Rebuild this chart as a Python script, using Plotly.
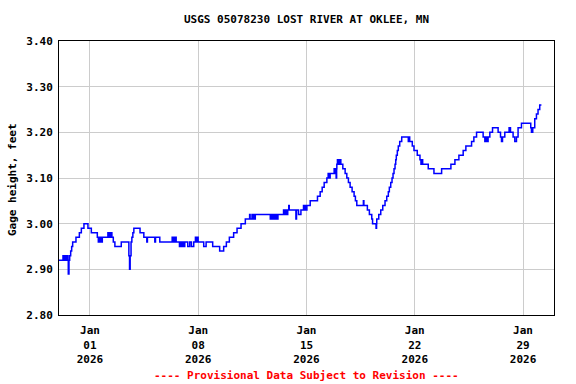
import pandas as pd
import plotly.graph_objects as go

title_text = "USGS 05078230 LOST RIVER AT OKLEE, MN"
y_title = "Gage height, feet"
footer_text = "---- Provisional Data Subject to Revision ----"

# days since 2026-01-01 00:00
day_offsets = [
    -2.000, -1.742, -1.665, -1.613, -1.548, -1.503, -1.419, -1.400, -1.355, -1.310,
    -1.245, -1.181, -1.116, -0.903, -0.684, -0.555, -0.387, -0.129, 0.090, 0.477,
    0.542, 0.594, 0.639, 0.723, 0.760, 0.800, 1.161, 1.194, 1.290, 1.335,
    1.381, 1.419, 1.510, 1.613, 2.026, 2.516, 2.561, 2.600, 2.658, 2.710,
    2.774, 2.839, 3.239, 3.484, 3.677, 3.716, 4.194, 4.239, 4.516, 5.316,
    5.368, 5.413, 5.490, 5.523, 5.574, 5.787, 5.852, 5.916, 6.013, 6.077,
    6.129, 6.323, 6.452, 6.561, 6.710, 6.819, 6.884, 6.929, 6.994, 7.355,
    7.510, 7.935, 8.387, 8.645, 8.819, 9.013, 9.290, 9.510, 9.768, 10.045,
    10.323, 10.355, 10.477, 10.510, 10.581, 10.626, 10.690, 11.658, 11.723, 11.787,
    11.852, 11.935, 12.013, 12.077, 12.155, 12.516, 12.561, 12.626, 12.690, 12.787,
    12.852, 12.884, 13.316, 13.355, 13.484, 13.639, 13.806, 13.852, 13.916, 13.961,
    14.026, 14.239, 14.710, 14.884, 15.013, 15.142, 15.316, 15.400, 15.465, 15.529,
    15.787, 15.852, 15.897, 15.916, 15.948, 15.961, 16.000, 16.045, 16.090, 16.129,
    16.174, 16.219, 16.348, 16.497, 16.606, 16.710, 16.819, 16.948, 17.077, 17.161,
    17.252, 17.677, 17.710, 17.935, 18.065, 18.219, 18.271, 18.497, 18.529, 18.542,
    18.671, 18.800, 18.929, 19.077, 19.187, 19.290, 19.355, 19.445, 19.529, 19.594,
    19.658, 19.723, 19.768, 19.806, 19.871, 19.935, 20.026, 20.155, 20.581, 20.626,
    20.671, 20.839, 20.948, 21.161, 21.335, 21.400, 21.445, 21.510, 21.871, 22.239,
    22.735, 23.335, 23.594, 23.852, 24.129, 24.303, 24.671, 24.819, 24.994, 25.419,
    25.529, 25.600, 25.677, 25.740, 25.852, 26.026, 26.387, 26.542, 26.606, 26.671,
    26.819, 27.097, 27.187, 27.355, 27.465, 27.574, 27.677, 27.897, 28.497, 28.542,
    28.626, 28.755, 28.865, 28.968, 29.077, 29.187,
]

gage_ft = [
    2.92, 2.93, 2.92, 2.93, 2.92, 2.93, 2.92, 2.89, 2.92, 2.93,
    2.94, 2.95, 2.96, 2.97, 2.98, 2.99, 3.00, 2.99, 2.98, 2.97,
    2.96, 2.97, 2.96, 2.97, 2.96, 2.97, 2.98, 2.97, 2.98, 2.97,
    2.98, 2.97, 2.96, 2.95, 2.96, 2.93, 2.90, 2.93, 2.96, 2.97,
    2.98, 2.99, 2.98, 2.97, 2.96, 2.97, 2.96, 2.97, 2.96, 2.97,
    2.96, 2.97, 2.96, 2.97, 2.96, 2.95, 2.96, 2.95, 2.96, 2.95,
    2.96, 2.95, 2.96, 2.95, 2.96, 2.97, 2.96, 2.97, 2.96, 2.95,
    2.96, 2.95, 2.94, 2.95, 2.96, 2.97, 2.98, 2.99, 3.00, 3.01,
    3.02, 3.01, 3.02, 3.01, 3.02, 3.01, 3.02, 3.01, 3.02, 3.01,
    3.02, 3.01, 3.02, 3.01, 3.02, 3.03, 3.02, 3.03, 3.02, 3.03,
    3.04, 3.03, 3.01, 3.03, 3.02, 3.03, 3.04, 3.03, 3.04, 3.03,
    3.04, 3.05, 3.06, 3.07, 3.08, 3.09, 3.10, 3.11, 3.10, 3.11,
    3.12, 3.11, 3.12, 3.10, 3.12, 3.13, 3.14, 3.13, 3.14, 3.13,
    3.14, 3.13, 3.12, 3.11, 3.10, 3.09, 3.08, 3.07, 3.06, 3.05,
    3.04, 3.05, 3.04, 3.03, 3.02, 3.01, 3.00, 2.99, 3.00, 3.01,
    3.02, 3.03, 3.04, 3.05, 3.06, 3.07, 3.08, 3.09, 3.10, 3.11,
    3.12, 3.13, 3.14, 3.15, 3.16, 3.17, 3.18, 3.19, 3.18, 3.19,
    3.18, 3.17, 3.16, 3.15, 3.14, 3.13, 3.14, 3.13, 3.12, 3.11,
    3.12, 3.13, 3.14, 3.15, 3.16, 3.17, 3.18, 3.19, 3.20, 3.19,
    3.18, 3.19, 3.18, 3.19, 3.20, 3.21, 3.20, 3.19, 3.18, 3.19,
    3.20, 3.21, 3.20, 3.19, 3.18, 3.19, 3.21, 3.22, 3.21, 3.20,
    3.21, 3.23, 3.24, 3.25, 3.26, 3.26,
]

tick_dates = ["2026-01-01", "2026-01-08", "2026-01-15", "2026-01-22", "2026-01-29"]
tick_text = ["Jan<br>01<br>2026", "Jan<br>08<br>2026", "Jan<br>15<br>2026",
             "Jan<br>22<br>2026", "Jan<br>29<br>2026"]
y_ticks = [2.80, 2.90, 3.00, 3.10, 3.20, 3.30, 3.40]
x_range = ["2025-12-30 00:00", "2026-01-31 00:00"]
y_range = [2.80, 3.40]

base = pd.Timestamp("2026-01-01")
times = [base + pd.Timedelta(days=d) for d in day_offsets]

FONT = "DejaVu Sans Mono"
W, H = 576, 384
PL, PR, PT, PB = 59, 554, 41, 315   # plot box in window pixels
L, R, T, B = PL, W - PR, PT, H - PB
PW, PH = PR - PL, PB - PT

fig = go.Figure()
fig.add_trace(go.Scatter(
    x=times, y=gage_ft, mode="lines",
    line=dict(color="#0000ff", width=1.5, shape="hv"),
    showlegend=False, hoverinfo="x+y",
))

fig.update_layout(
    width=W, height=H,
    margin=dict(l=L, r=R, t=T, b=B, autoexpand=False),
    paper_bgcolor="white", plot_bgcolor="white",
    font=dict(family=FONT, size=11, color="black"),
    title=dict(text="<b>" + title_text + "</b>", x=0.5, xref="paper",
               y=1 - 19 / H, yanchor="middle",
               font=dict(family=FONT, size=11, color="black")),
    showlegend=False,
)

fig.update_xaxes(
    type="date", range=x_range, automargin=False,
    tickvals=tick_dates,
    ticktext=["<b>" + t.replace("<br>", "</b><br><b>") + "</b>" for t in tick_text],
    tickangle=0,
    showgrid=True, gridcolor="#cccccc", gridwidth=1,
    showline=True, linecolor="black", linewidth=1, mirror=True,
    ticks="outside", ticklen=5, tickcolor="rgba(0,0,0,0)", zeroline=False,
    tickfont=dict(family=FONT, size=11, color="black"),
)
fig.update_yaxes(
    range=y_range, tickvals=y_ticks, automargin=False,
    ticktext=["<b>%.2f</b>" % v for v in y_ticks],
    showgrid=True, gridcolor="#cccccc", gridwidth=1,
    showline=True, linecolor="black", linewidth=1, mirror=True,
    ticks="outside", ticklen=3, tickcolor="rgba(0,0,0,0)", zeroline=False,
    tickfont=dict(family=FONT, size=11, color="black"),
)

fig.add_annotation(
    text="<b>" + y_title + "</b>", xref="paper", yref="paper",
    x=-(PL - 12) / PW, y=(PB - 180) / PH, textangle=-90,
    xanchor="center", yanchor="middle", showarrow=False,
    font=dict(family=FONT, size=11, color="black"),
)

fig.add_annotation(
    text="<b>" + footer_text + "</b>", xref="paper", yref="paper",
    x=0.5, y=-(375 - PB) / PH, yanchor="middle", showarrow=False,
    font=dict(family=FONT, size=11, color="#ff0000"),
)

fig.write_html(
    "out.html",
    config={"displayModeBar": False},
    post_script="document.body.style.margin='0';document.body.style.overflow='hidden';",
)
